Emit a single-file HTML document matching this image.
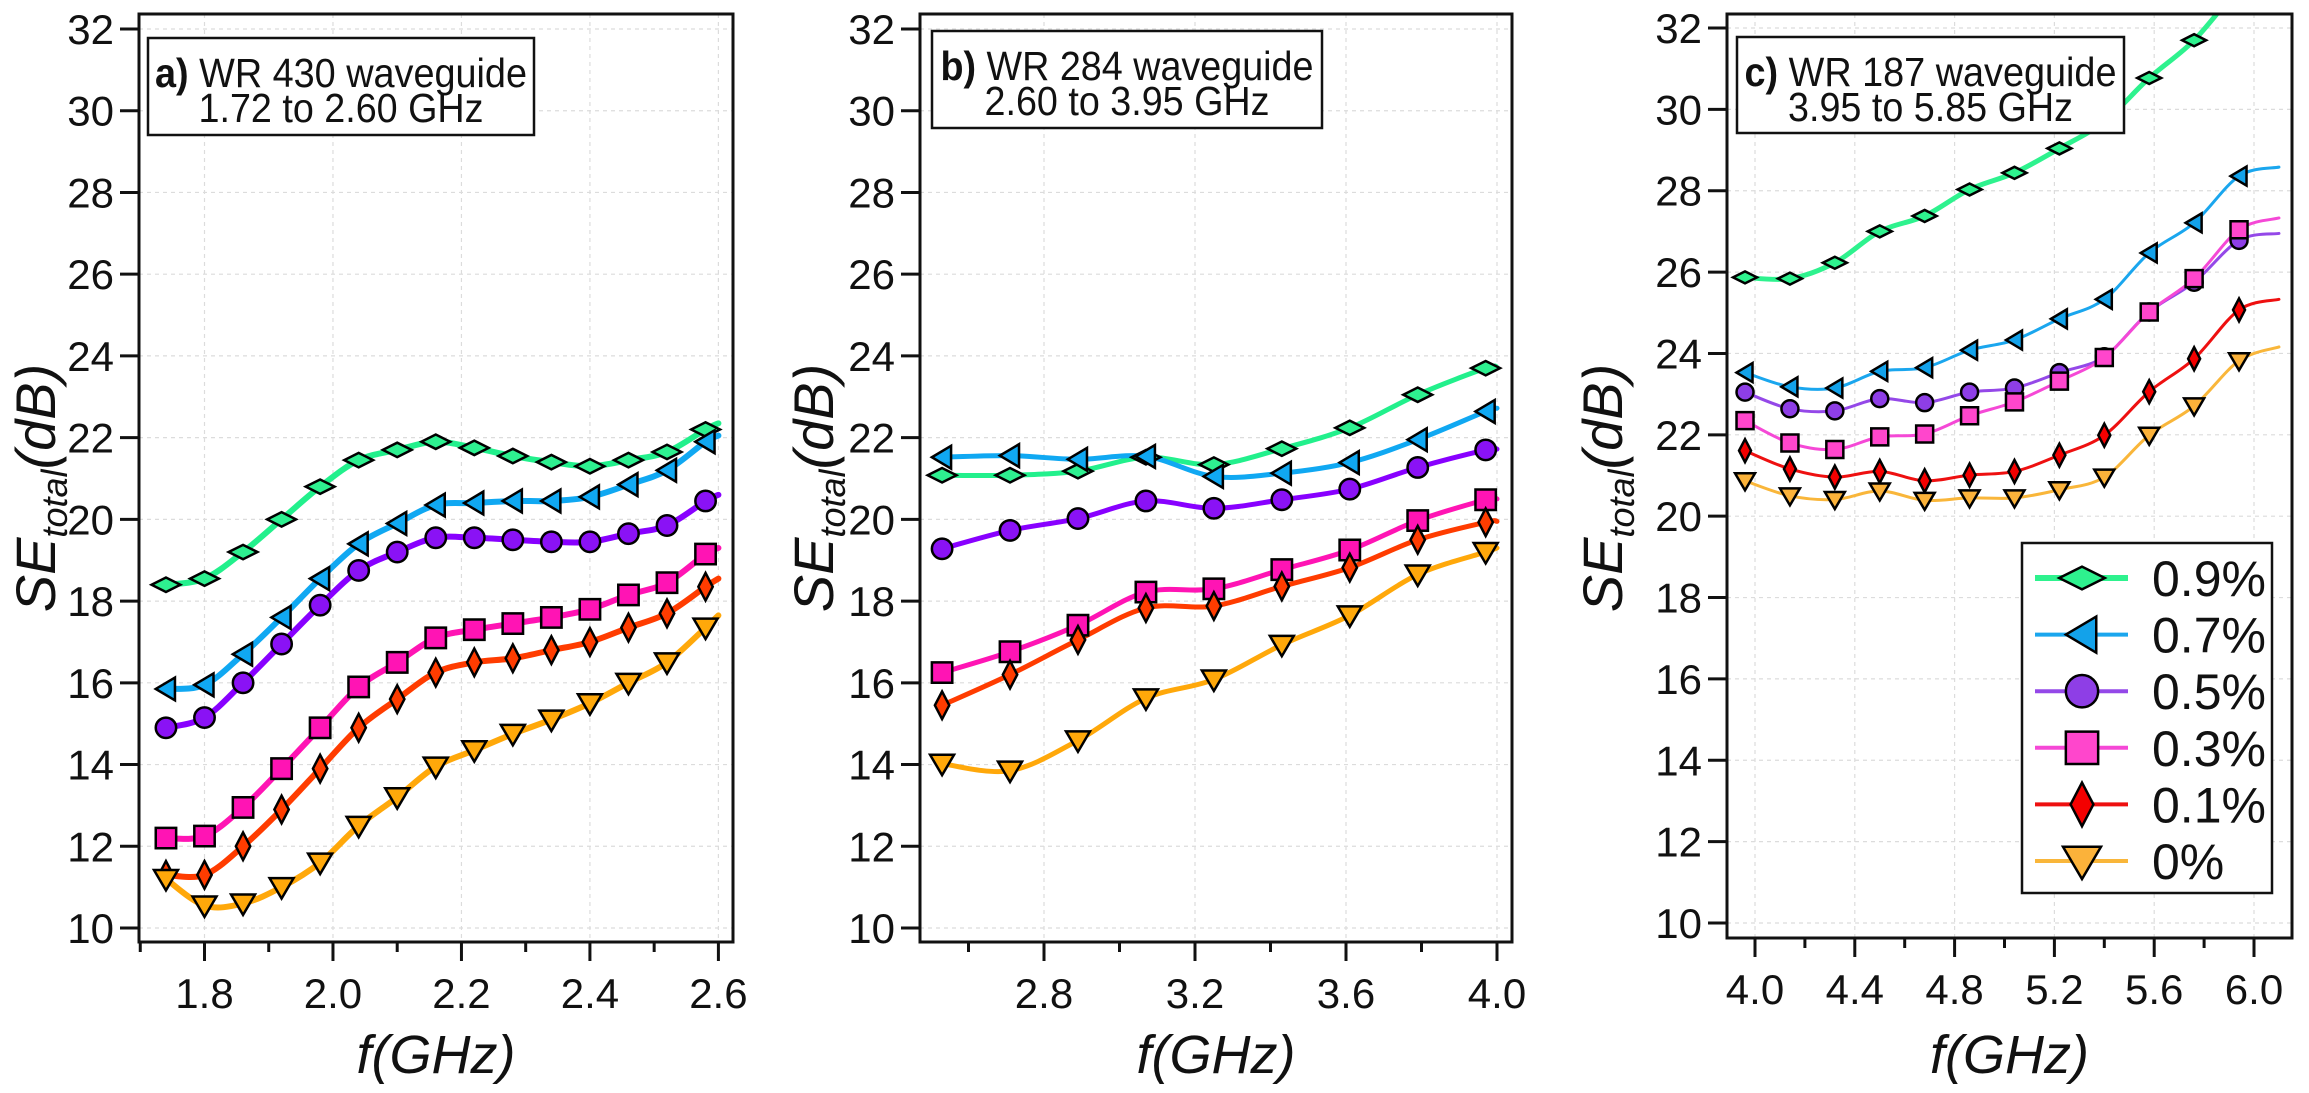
<!DOCTYPE html>
<html><head><meta charset="utf-8"><style>
html,body{margin:0;padding:0;background:#fff;}
svg{display:block;font-family:"Liberation Sans",Arial,sans-serif;}
</style></head><body>
<svg id="fig" width="2309" height="1093" viewBox="0 0 2309 1093" xmlns="http://www.w3.org/2000/svg"></svg>
<script>
// ---------- data ----------
const seriesNames = ["0.9%","0.7%","0.5%","0.3%","0.1%","0%"];
const yTicks = [10,12,14,16,18,20,22,24,26,28,30,32];
// Panel a
const aFreq = [1.74,1.80,1.86,1.92,1.98,2.04,2.10,2.16,2.22,2.28,2.34,2.40,2.46,2.52,2.58];
const aS09 = [18.4,18.55,19.2,20.0,20.8,21.45,21.7,21.9,21.75,21.55,21.4,21.3,21.45,21.65,22.2];
const aS07 = [15.85,15.95,16.7,17.6,18.55,19.4,19.9,20.35,20.4,20.45,20.45,20.55,20.85,21.2,21.9];
const aS05 = [14.9,15.15,16.0,16.95,17.9,18.75,19.2,19.55,19.55,19.5,19.45,19.45,19.65,19.85,20.45];
const aS03 = [12.2,12.25,12.95,13.9,14.9,15.9,16.5,17.1,17.3,17.45,17.6,17.8,18.15,18.45,19.15];
const aS01 = [11.3,11.3,12.0,12.9,13.9,14.9,15.6,16.25,16.5,16.6,16.8,17.0,17.35,17.7,18.35];
const aS00 = [11.2,10.55,10.6,11.0,11.6,12.5,13.2,13.95,14.35,14.75,15.1,15.5,16.0,16.5,17.35];
const aEndF = 2.6;
const aEnd = [22.35,22.05,20.6,19.3,18.55,17.65];
const aXTicks = [1.8,2.0,2.2,2.4,2.6];
// Panel b
const bFreq = [2.53,2.71,2.89,3.07,3.25,3.43,3.61,3.79,3.97];
const bS09 = [21.08,21.08,21.18,21.52,21.34,21.73,22.24,23.05,23.70];
const bS07 = [21.52,21.56,21.47,21.54,21.05,21.13,21.39,21.95,22.64];
const bS05 = [19.28,19.73,20.02,20.45,20.27,20.48,20.74,21.27,21.70];
const bS03 = [16.25,16.76,17.41,18.22,18.30,18.77,19.25,19.97,20.48];
const bS01 = [15.45,16.2,17.05,17.83,17.88,18.36,18.82,19.5,19.93];
const bS00 = [14.02,13.85,14.59,15.62,16.08,16.93,17.65,18.65,19.2];
const bEndF = 4.0;
const bEnd = [23.72,22.72,21.72,20.5,19.95,19.3];
const bXTicks = [2.8,3.2,3.6,4.0];
// Panel c
const cFreq = [3.96,4.14,4.32,4.50,4.68,4.86,5.04,5.22,5.40,5.58,5.76,5.94];
const cS09 = [25.87,25.84,26.23,27.0,27.38,28.03,28.44,29.04,29.7,30.77,31.7,33.0];
const cS07 = [23.53,23.18,23.15,23.56,23.65,24.08,24.33,24.85,25.33,26.47,27.21,28.36];
const cS05 = [23.05,22.64,22.59,22.89,22.79,23.05,23.15,23.53,23.92,25.02,25.75,26.78];
const cS03 = [22.35,21.8,21.64,21.95,22.02,22.47,22.81,23.32,23.9,25.02,25.84,27.04];
const cS01 = [21.61,21.16,20.96,21.1,20.87,21.01,21.1,21.5,21.99,23.06,23.87,25.07];
const cS00 = [20.87,20.5,20.41,20.62,20.39,20.45,20.45,20.65,20.96,21.99,22.71,23.82];
const cEndF = 6.1;
const cEnd = [34.0,28.58,26.95,27.33,25.33,24.16];
const cXTicks = [4.0,4.4,4.8,5.2,5.6,6.0];

// ---------- drawing ----------
const NS="http://www.w3.org/2000/svg";
const svg=document.getElementById('fig');
function mk(tag,attrs,parent){const e=document.createElementNS(NS,tag);for(const k in attrs)e.setAttribute(k,attrs[k]);(parent||svg).appendChild(e);return e;}
const markerTypes=["hdiamond","ltri","circle","square","vdiamond","dtri"];
function markerPath(type,cx,cy,s){
  switch(type){
    case "hdiamond":return `M${cx-s*1.2},${cy}L${cx},${cy-s*0.6}L${cx+s*1.2},${cy}L${cx},${cy+s*0.6}Z`;
    case "ltri":return `M${cx-s*0.85},${cy}L${cx+s*0.75},${cy-s*0.95}L${cx+s*0.75},${cy+s*0.95}Z`;
    case "square":return `M${cx-s*0.85},${cy-s*0.85}h${s*1.7}v${s*1.7}h${-s*1.7}Z`;
    case "vdiamond":return `M${cx},${cy-s*1.15}L${cx+s*0.6},${cy}L${cx},${cy+s*1.15}L${cx-s*0.6},${cy}Z`;
    case "dtri":return `M${cx-s},${cy-s*0.75}L${cx+s},${cy-s*0.75}L${cx},${cy+s*0.95}Z`;
  }
}
function drawMarker(g,type,cx,cy,s,fill,sw){
  let e;
  if(type==="circle"){e=mk('circle',{cx:cx,cy:cy,r:s*0.85,fill:fill,stroke:'#000','stroke-width':sw},g);}
  else{e=mk('path',{d:markerPath(type,cx,cy,s),fill:fill,stroke:'#000','stroke-width':sw,'stroke-linejoin':'miter'},g);}
  return e;
}
function smoothPath(pts){
  let d=`M${pts[0][0]},${pts[0][1]}`;
  for(let i=0;i<pts.length-1;i++){
    const p0=pts[Math.max(0,i-1)],p1=pts[i],p2=pts[i+1],p3=pts[Math.min(pts.length-1,i+2)];
    const c1=[p1[0]+(p2[0]-p0[0])/6,p1[1]+(p2[1]-p0[1])/6];
    const c2=[p2[0]-(p3[0]-p1[0])/6,p2[1]-(p3[1]-p1[1])/6];
    d+=`C${c1[0]},${c1[1]} ${c2[0]},${c2[1]} ${p2[0]},${p2[1]}`;
  }
  return d;
}
function drawPanel(cfg){
  const {id,L,R,T,B,y10,y32,xmin,xmax,fx0,fx1,px0,px1,freq,series,endF,endV,xTicks,minorStep,lineColors,markColors,lineWidths,ms,title1b,title1,title2,tl1,tl2,tbox,ylabX}=cfg;
  const X=f=>px0+(f-fx0)*(px1-px0)/(fx1-fx0);
  const Y=v=>y10+(v-10)*(y32-y10)/22;
  const g=mk('g',{},svg);
  
  
  mk('defs',{},g).innerHTML=`<clipPath id="clip-${id}"><rect x="${L}" y="${T}" width="${R-L}" height="${B-T}"/></clipPath>`;
  const grid=mk('g',{stroke:'#dcdcdc','stroke-width':1.2,'stroke-dasharray':'4,4'},g);
  
  
  yTicks.forEach(t=>mk('line',{x1:L,x2:R,y1:Y(t),y2:Y(t)},grid));
  xTicks.forEach(t=>mk('line',{x1:X(t),x2:X(t),y1:T,y2:B},grid));
  const sg=mk('g',{'clip-path':`url(#clip-${id})`},g);
  series.forEach((vals,si)=>{
    const pts=freq.map((f,i)=>[X(f),Y(vals[i])]);
    pts.push([X(endF),Y(endV[si])]);
    const p=mk('path',{d:smoothPath(pts),fill:'none',stroke:lineColors[si],'stroke-width':lineWidths[si],'stroke-linejoin':'round','stroke-linecap':'round'},sg);
    
    
  });
  series.forEach((vals,si)=>{
    freq.forEach((f,i)=>{
      const m=drawMarker(sg,markerTypes[si],X(f),Y(vals[i]),ms,markColors[si],2.5);
      
      
    });
  });
  const fr=mk('rect',{x:L,y:T,width:R-L,height:B-T,fill:'none',stroke:'#111','stroke-width':3},g);
  
  
  yTicks.forEach(t=>{
    mk('line',{x1:L-19,x2:L,y1:Y(t),y2:Y(t),stroke:'#111','stroke-width':3},g);
    const tx=mk('text',{x:L-25,y:Y(t)+15,'font-size':42,'text-anchor':'end',fill:'#111'},g);
    tx.textContent=t;
    
    
  });
  const step=minorStep;
  for(let f=xTicks[0]-step*2;f<=xmax+1e-9;f+=step){
    if(f<xmin-1e-9)continue;
    const major=xTicks.some(t=>Math.abs(t-f)<1e-6);
    mk('line',{x1:X(f),x2:X(f),y1:B,y2:B+(major?19:10),stroke:'#111','stroke-width':3},g);
  }
  xTicks.forEach(t=>{
    const tx=mk('text',{x:X(t),y:B+66,'font-size':42,'text-anchor':'middle',fill:'#111'},g);
    tx.textContent=t.toFixed(1);
    
    
  });
  const xt=mk('text',{x:(L+R)/2,y:1073,'font-size':54,'font-style':'italic','text-anchor':'middle',fill:'#111'},g);
  xt.textContent='f(GHz)';
  
  
  const yt=mk('text',{transform:`translate(${ylabX},488) rotate(-90)`,'font-size':56,'font-style':'italic','text-anchor':'middle',fill:'#111'},g);
  yt.innerHTML='SE<tspan font-size="36" dy="12">total</tspan><tspan dy="-12">(dB)</tspan>';
  
  
  const tb=mk('g',{},g);
  
  
  mk('rect',{x:tbox[0],y:tbox[1],width:tbox[2]-tbox[0],height:tbox[3]-tbox[1],fill:'#fff',stroke:'#111','stroke-width':2.5},tb);
  const cx=(tbox[0]+tbox[2])/2;
  const t1=mk('text',{x:cx-tl1/2,y:tbox[1]+49,'font-size':41,fill:'#111',textLength:tl1,lengthAdjust:'spacingAndGlyphs'},tb);
  t1.innerHTML=`<tspan font-weight="bold">${title1b}</tspan> ${title1}`;
  const t2=mk('text',{x:cx-tl2/2,y:tbox[1]+84,'font-size':41,fill:'#111',textLength:tl2,lengthAdjust:'spacingAndGlyphs'},tb);
  t2.textContent=title2;
}
const colsAB=['#22f08c','#10a8f2','#8800ff','#ff14b4','#ff3c00','#ffa80a'];
const markAB=['#2ef090','#10a8f2','#8a12f5','#ff14b4','#ff3c00','#ffa80a'];
const colsC=['#2ef28e','#1aa6ee','#9448e8','#f548d6','#ee1010','#f9b63a'];
const markC=['#2ef28e','#13a2ea','#8e3ee6','#ff46cc','#f40000','#fbb23a'];
drawPanel({id:'a',L:139,R:733,T:14,B:942,y10:928,y32:29,xmin:1.70,xmax:2.6,fx0:1.8,fx1:2.6,px0:204.5,px1:718.4,
  freq:aFreq,series:[aS09,aS07,aS05,aS03,aS01,aS00],endF:aEndF,endV:aEnd,xTicks:aXTicks,minorStep:0.1,lineColors:colsAB,markColors:markAB,
  lineWidths:[6,6,6,6,6,6],ms:12,title1b:'a)',title1:'WR 430 waveguide',title2:'1.72 to 2.60 GHz',tl1:372,tl2:285,tbox:[148,38,534,135],ylabX:55});
drawPanel({id:'b',L:920,R:1512,T:14,B:942,y10:928,y32:29,xmin:2.45,xmax:4.0,fx0:3.2,fx1:4.0,px0:1195,px1:1497,
  freq:bFreq,series:[bS09,bS07,bS05,bS03,bS01,bS00],endF:bEndF,endV:bEnd,xTicks:bXTicks,minorStep:0.2,lineColors:colsAB,markColors:markAB,
  lineWidths:[5,5,5,5,5,5],ms:12,title1b:'b)',title1:'WR 284 waveguide',title2:'2.60 to 3.95 GHz',tl1:373,tl2:285,tbox:[932,31,1322,128],ylabX:833});
drawPanel({id:'c',L:1727,R:2292,T:14,B:938,y10:923,y32:28,xmin:3.9,xmax:6.1,fx0:4.0,fx1:6.0,px0:1755,px1:2254,
  freq:cFreq,series:[cS09,cS07,cS05,cS03,cS01,cS00],endF:cEndF,endV:cEnd,xTicks:cXTicks,minorStep:0.2,lineColors:colsC,markColors:markC,
  lineWidths:[5,3,3,3,3,3],ms:10,title1b:'c)',title1:'WR 187 waveguide',title2:'3.95 to 5.85 GHz',tl1:372,tl2:285,tbox:[1737,37,2124,133],ylabX:1622});
const lg=mk('g',{},svg);


mk('rect',{x:2022,y:543,width:250,height:350,fill:'#fff',stroke:'#111','stroke-width':2.5},lg);
seriesNames.forEach((n,i)=>{
  const y=578+i*56.6;
  const e=mk('g',{},lg);
  
  
  mk('line',{x1:2035,x2:2128,y1:y,y2:y,stroke:colsC[i],'stroke-width':i===0?6:4},e);
  drawMarker(e,markerTypes[i],2082,y,19,markC[i],2.5);
  const t=mk('text',{x:2152,y:y+18,'font-size':50,fill:'#111'},e);
  t.textContent=n;
});
</script>
</body></html>
